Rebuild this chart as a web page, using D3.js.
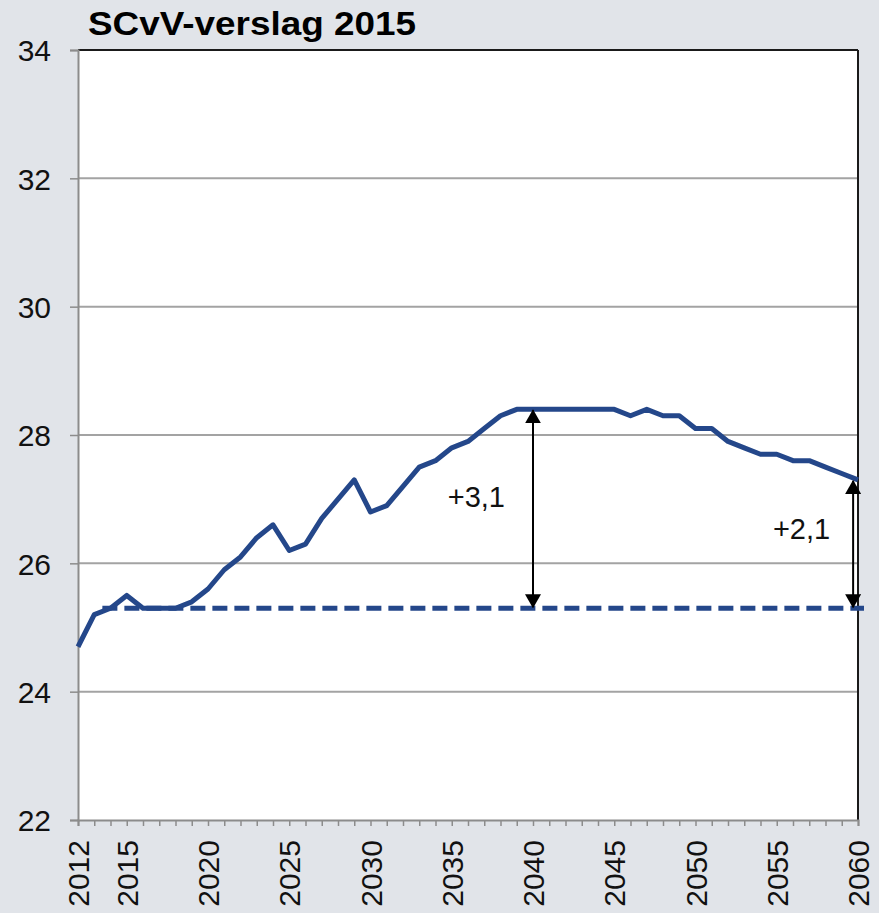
<!DOCTYPE html>
<html>
<head>
<meta charset="utf-8">
<script src="https://cdn.jsdelivr.net/npm/d3@7"></script>
<style>
  body { margin: 0; background: #e1e4e9; }
  svg { display: block; font-family: "Liberation Sans", Arial, sans-serif; }
</style>
</head>
<body>
<div id="chart"></div>
<script>
// chart data
const years = d3.range(2012, 2061);
const values = [24.7, 25.2, 25.3, 25.5, 25.3, 25.3, 25.3, 25.4, 25.6, 25.9,
  26.1, 26.4, 26.6, 26.2, 26.3, 26.7, 27.0, 27.3, 26.8, 26.9,
  27.2, 27.5, 27.6, 27.8, 27.9, 28.1, 28.3, 28.4, 28.4, 28.4,
  28.4, 28.4, 28.4, 28.4, 28.3, 28.4, 28.3, 28.3, 28.1, 28.1,
  27.9, 27.8, 27.7, 27.7, 27.6, 27.6, 27.5, 27.4, 27.3];
const baseline = 25.3;
const baseStart = 2013.5;
const yTicks = [22, 24, 26, 28, 30, 32, 34];
const xLabels = [2012, 2015, 2020, 2025, 2030, 2035, 2040, 2045, 2050, 2055, 2060];
const arrows = [
  {year: 2040, from: baseline, to: 28.4, label: "+3,1", gap: 28, dy: -2},
  {year: 2059.7, from: baseline, to: 27.3, label: "+2,1", gap: 23, dy: -5}
];
const title = "SCvV-verslag 2015";

const width = 879, height = 913;
const margin = {top: 50, right: 21, bottom: 93, left: 78};
const w = width - margin.left - margin.right;
const h = height - margin.top - margin.bottom;
const blue = "#24478a";

const svg = d3.select("#chart")
  .append("svg")
    .attr("width", width)
    .attr("height", height);

svg.append("rect").attr("width", width).attr("height", height).attr("fill", "#e1e4e9");

const g = svg.append("g")
  .attr("transform", "translate(" + margin.left + "," + margin.top + ")");

const x = d3.scaleLinear().domain([2012, 2060]).range([0, w]);
const y = d3.scaleLinear().domain([22, 34]).range([h, 0]);

g.append("rect").attr("width", w).attr("height", h).attr("fill", "#ffffff");

// gridlines
g.selectAll(".grid")
  .data(yTicks.filter(d => d > 22 && d < 34))
  .enter()
  .append("line")
    .attr("x1", 0).attr("x2", w)
    .attr("y1", d => y(d)).attr("y2", d => y(d))
    .attr("stroke", "#a3a3a3")
    .attr("stroke-width", 2);

// top + right frame
g.append("line").attr("x1", 0).attr("x2", w).attr("y1", 0).attr("y2", 0)
  .attr("stroke", "#1a1a1a").attr("stroke-width", 2);
g.append("line").attr("x1", w).attr("x2", w).attr("y1", 0).attr("y2", h)
  .attr("stroke", "#1a1a1a").attr("stroke-width", 2);

// y axis
const yAxis = g.append("g")
  .call(d3.axisLeft(y).tickValues(yTicks).tickSize(8).tickFormat(d3.format("d")));
yAxis.select(".domain").attr("stroke", "#8c8c8c").attr("stroke-width", 2);
yAxis.selectAll(".tick line").attr("stroke", "#8c8c8c").attr("stroke-width", 1.5);
yAxis.selectAll("text")
  .attr("font-size", 30).attr("fill", "#111")
  .attr("x", -27).attr("dy", "0.36em")
  .style("font-family", "Liberation Sans, Arial, sans-serif");

// x axis, yearly ticks
const xAxis = g.append("g")
  .attr("transform", "translate(0," + h + ")")
  .call(d3.axisBottom(x).tickValues(years).tickSize(6).tickFormat(""));
xAxis.select(".domain").attr("stroke", "#8c8c8c").attr("stroke-width", 2);
xAxis.selectAll(".tick line").attr("stroke", "#8c8c8c").attr("stroke-width", 1.5);

g.selectAll(".xlab")
  .data(xLabels)
  .enter()
  .append("text")
    .attr("transform", d => "translate(" + (x(d) + 11) + "," + (h + 20) + ")rotate(-90)")
    .attr("text-anchor", "end")
    .attr("font-size", 30)
    .attr("fill", "#111")
    .text(d => d);

// baseline dashed
g.append("line")
  .attr("x1", x(baseStart)).attr("x2", x(2060) + 6)
  .attr("y1", y(baseline)).attr("y2", y(baseline))
  .attr("stroke", blue)
  .attr("stroke-width", 5)
  .attr("stroke-dasharray", "15,7");

// main series
const line = d3.line().x((d, i) => x(years[i])).y(d => y(d));
g.append("path")
  .datum(values)
  .attr("d", line)
  .attr("fill", "none")
  .attr("stroke", blue)
  .attr("stroke-width", 5)
  .attr("stroke-linejoin", "round");

// arrows
const defs = svg.append("defs");
defs.append("marker")
  .attr("id", "head")
  .attr("viewBox", "0 0 14 16")
  .attr("refX", 13).attr("refY", 8)
  .attr("markerWidth", 14).attr("markerHeight", 16)
  .attr("markerUnits", "userSpaceOnUse")
  .attr("orient", "auto-start-reverse")
  .append("path")
    .attr("d", "M0,0 L14,8 L0,16 Z")
    .attr("fill", "#000");

g.selectAll(".arrow")
  .data(arrows)
  .enter()
  .append("line")
    .attr("x1", d => x(d.year)).attr("x2", d => x(d.year))
    .attr("y1", d => y(d.from) - 1).attr("y2", d => y(d.to) + 1)
    .attr("stroke", "#000")
    .attr("stroke-width", 2)
    .attr("marker-start", "url(#head)")
    .attr("marker-end", "url(#head)");

g.selectAll(".alabel")
  .data(arrows)
  .enter()
  .append("text")
    .attr("x", d => x(d.year) - d.gap)
    .attr("y", d => y((d.from + d.to) / 2) + d.dy)
    .attr("text-anchor", "end")
    .attr("font-size", 29)
    .attr("fill", "#111")
    .text(d => d.label);

// title
svg.append("text")
  .attr("x", 88).attr("y", 35)
  .attr("font-size", 33)
  .attr("font-weight", "bold")
  .attr("fill", "#000")
  .attr("textLength", 328)
  .attr("lengthAdjust", "spacingAndGlyphs")
  .text(title);
</script>
</body>
</html>
